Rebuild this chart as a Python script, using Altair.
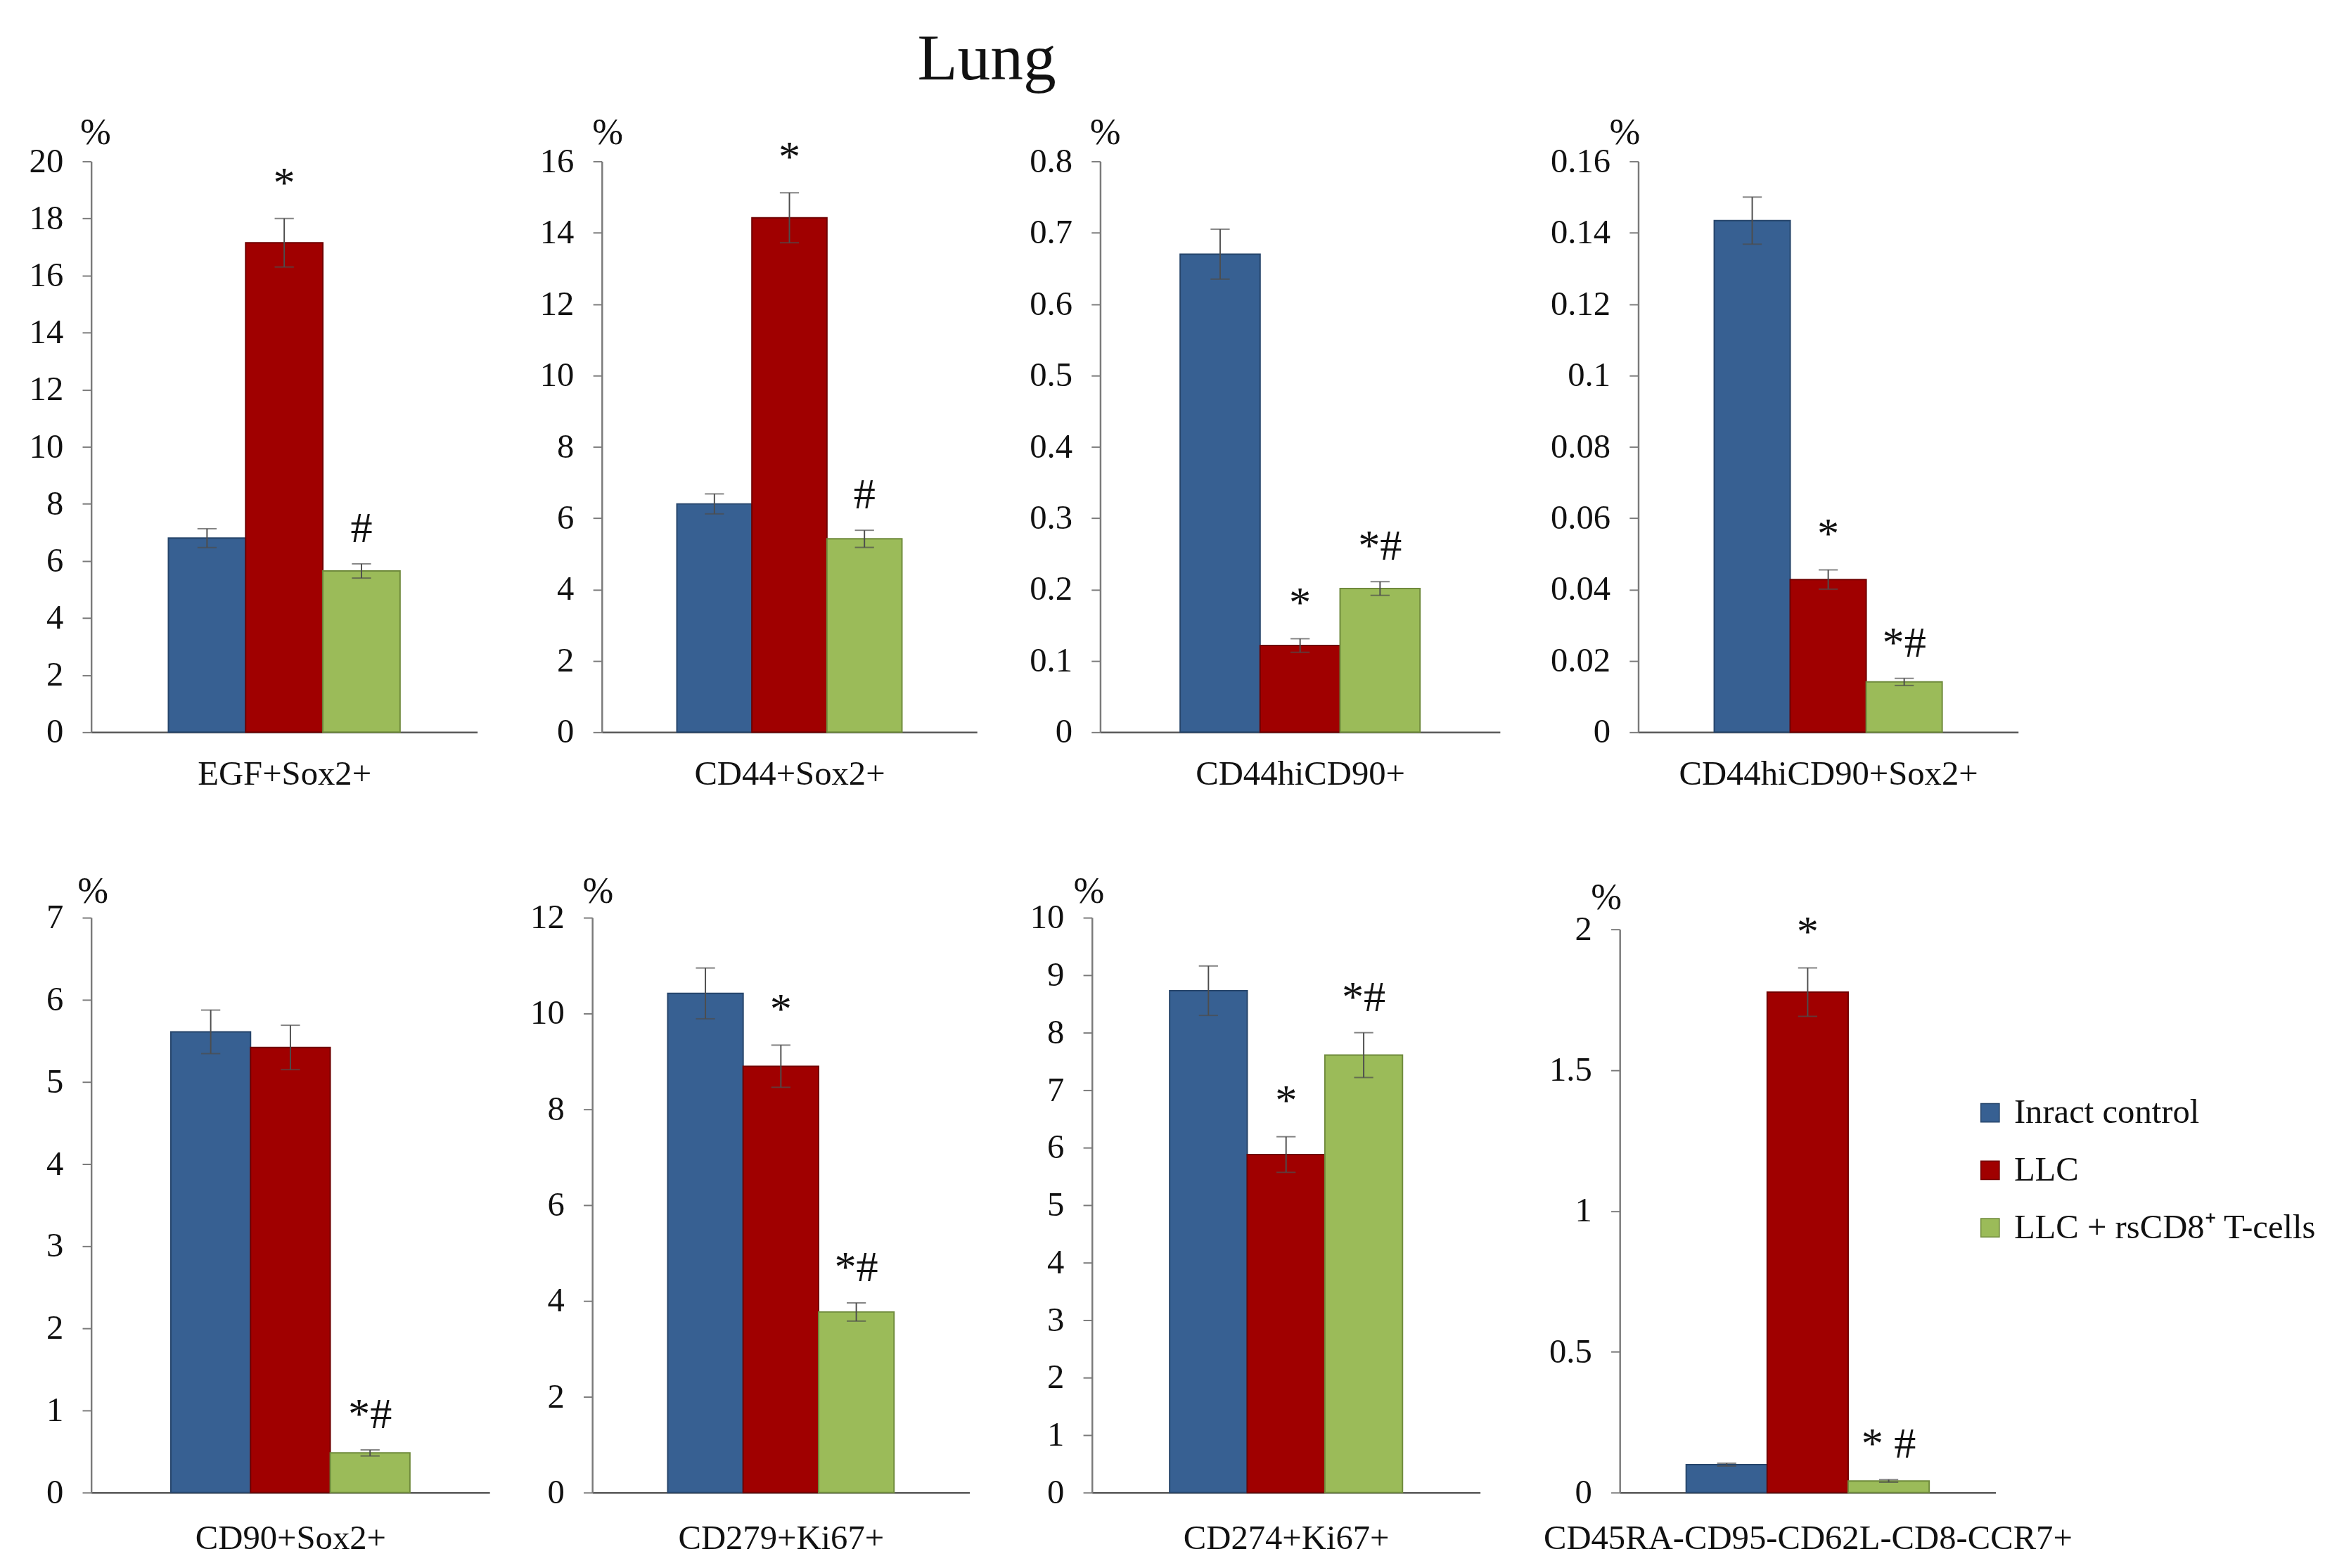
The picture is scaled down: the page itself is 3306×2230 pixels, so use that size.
import altair as alt
import pandas as pd

# ---------------- data ----------------
groups = ["Inract control", "LLC", "LLC + rsCD8\u207a T-cells"]
bar_colors = ["#376092", "#A00000", "#9BBB59"]
edge_colors = ["#26456b", "#700000", "#6f8a3c"]

markers = ["EGF+Sox2+", "CD44+Sox2+", "CD44hiCD90+", "CD44hiCD90+Sox2+",
           "CD90+Sox2+", "CD279+Ki67+", "CD274+Ki67+", "CD45RA-CD95-CD62L-CD8-CCR7+"]

egf_mean = [6.8, 17.15, 5.65]
egf_err = [0.33, 0.85, 0.25]
egf_sig = ["", "*", "#"]
egf_ticks = [0, 2, 4, 6, 8, 10, 12, 14, 16, 18, 20]

cd44_mean = [6.4, 14.42, 5.42]
cd44_err = [0.28, 0.7, 0.24]
cd44_sig = ["", "*", "#"]
cd44_ticks = [0, 2, 4, 6, 8, 10, 12, 14, 16]

cd44hi_mean = [0.670, 0.1215, 0.2014]
cd44hi_err = [0.035, 0.0095, 0.0096]
cd44hi_sig = ["", "*", "*#"]
cd44hi_ticks = [0, 0.1, 0.2, 0.3, 0.4, 0.5, 0.6, 0.7, 0.8]

cd44hisox_mean = [0.1434, 0.0428, 0.0141]
cd44hisox_err = [0.0066, 0.0027, 0.001]
cd44hisox_sig = ["", "*", "*#"]
cd44hisox_ticks = [0, 0.02, 0.04, 0.06, 0.08, 0.1, 0.12, 0.14, 0.16]

cd90_mean = [5.61, 5.42, 0.483]
cd90_err = [0.265, 0.27, 0.037]
cd90_sig = ["", "", "*#"]
cd90_ticks = [0, 1, 2, 3, 4, 5, 6, 7]

cd279_mean = [10.42, 8.90, 3.77]
cd279_err = [0.53, 0.44, 0.19]
cd279_sig = ["", "*", "*#"]
cd279_ticks = [0, 2, 4, 6, 8, 10, 12]

cd274_mean = [8.73, 5.88, 7.61]
cd274_err = [0.43, 0.31, 0.39]
cd274_sig = ["", "*", "*#"]
cd274_ticks = [0, 1, 2, 3, 4, 5, 6, 7, 8, 9, 10]

cd45_mean = [0.0993, 1.777, 0.0414]
cd45_err = [0.005, 0.086, 0.0046]
cd45_sig = ["", "*", "* #"]
cd45_ticks = [0, 0.5, 1, 1.5, 2]

panel_data = [
    (egf_mean, egf_err, egf_sig, egf_ticks),
    (cd44_mean, cd44_err, cd44_sig, cd44_ticks),
    (cd44hi_mean, cd44hi_err, cd44hi_sig, cd44hi_ticks),
    (cd44hisox_mean, cd44hisox_err, cd44hisox_sig, cd44hisox_ticks),
    (cd90_mean, cd90_err, cd90_sig, cd90_ticks),
    (cd279_mean, cd279_err, cd279_sig, cd279_ticks),
    (cd274_mean, cd274_err, cd274_sig, cd274_ticks),
    (cd45_mean, cd45_err, cd45_sig, cd45_ticks),
]

# ---------------- layout / style ----------------
FONT = "Liberation Serif"
widths = [564, 548, 584, 555, 582, 551, 567, 549]
heights = [834, 834, 834, 834, 840, 840, 840, 840]
range_top = [0, 0, 0, 0, 0, 0, 0, 17]
pad_outer = [1, 1, 1, 1, 1, 1, 1, 0.82]
pct_x = [6, 8, 7, -20, 2, 8, -5, -20]
pct_y = [-26, -26, -26, -26, -22, -22, -22, -13]
title_pad = [36, 36, 36, 36, 42, 42, 42, 42]

legend_def = alt.Legend(
    title=None, orient="none", legendX=2749, legendY=1365,
    symbolType="square", symbolSize=729, symbolStrokeColor="#333333",
    symbolStrokeWidth=1.5, labelFont=FONT, labelFontSize=50, labelColor="#111111",
    labelOffset=10, rowPadding=34, labelLimit=800,
)


def panel(i):
    mean, err, sig, ticks = panel_data[i]
    df = pd.DataFrame({
        "group": groups,
        "value": mean,
        "lo": [m - e for m, e in zip(mean, err)],
        "hi": [m + e for m, e in zip(mean, err)],
        "sig": sig,
    })
    ymax = ticks[-1]
    xenc = alt.X(
        "group:N", sort=groups,
        scale=alt.Scale(paddingInner=0, paddingOuter=pad_outer[i]),
        axis=alt.Axis(labels=False, ticks=False, domain=True, domainColor="#595959",
                      domainWidth=2.5, title=markers[i], titleFont=FONT,
                      titleFontSize=50, titleFontWeight="normal", titleColor="#111111",
                      titlePadding=title_pad[i]),
    )
    yscale = alt.Scale(domain=[0, ymax], nice=False, zero=True,
                       range=[heights[i], range_top[i]])
    yaxis = alt.Axis(values=ticks, format="~g", grid=False, domainColor="#7a7a7a",
                     domainWidth=2.5, tickColor="#7a7a7a", tickSize=13, tickWidth=2,
                     labelFont=FONT, labelFontSize=50, labelColor="#111111",
                     labelPadding=28,
                     title="%", titleAngle=0, titleFont=FONT, titleFontSize=54,
                     titleFontWeight="normal", titleColor="#111111",
                     titleX=pct_x[i], titleY=pct_y[i], titleAlign="center",
                     titleBaseline="alphabetic")
    base = alt.Chart(df)
    bars = base.mark_bar(strokeWidth=2).encode(
        x=xenc,
        y=alt.Y("value:Q", scale=yscale, axis=yaxis),
        color=alt.Color("group:N", sort=groups,
                        scale=alt.Scale(domain=groups, range=bar_colors),
                        legend=legend_def),
        stroke=alt.Stroke("group:N", scale=alt.Scale(domain=groups, range=edge_colors),
                          legend=None),
    )
    rule = base.mark_rule(color="#4d4d4d", strokeWidth=2).encode(
        x=alt.X("group:N", sort=groups), y="lo:Q", y2="hi:Q")
    cap_hi = base.mark_tick(color="#4d4d4d", thickness=2, size=28).encode(
        x=alt.X("group:N", sort=groups), y="hi:Q")
    cap_lo = base.mark_tick(color="#4d4d4d", thickness=2, size=28).encode(
        x=alt.X("group:N", sort=groups), y="lo:Q")
    text = base.mark_text(font=FONT, fontSize=64, color="#111111",
                          baseline="alphabetic", dy=-32).encode(
        x=alt.X("group:N", sort=groups), y="hi:Q", text="sig:N")
    return alt.layer(bars, rule, cap_hi, cap_lo, text).properties(
        width=widths[i], height=heights[i])


p = [panel(i) for i in range(8)]
row1 = alt.hconcat(
    p[0],
    alt.hconcat(p[1], alt.hconcat(p[2], p[3], spacing=73), spacing=76),
    spacing=91,
)
row2 = alt.hconcat(
    p[4],
    alt.hconcat(p[5], alt.hconcat(p[6], p[7], spacing=92), spacing=88),
    spacing=59,
)

chart = alt.vconcat(row1, row2, spacing=120).properties(
    title=alt.TitleParams("Lung", font=FONT, fontSize=96, fontWeight="normal",
                          color="#111111", anchor="start", dx=1298, offset=31),
    padding={"left": 34, "top": 0, "right": 4, "bottom": 4},
).configure_view(stroke=None)

chart.save("out.html", embed_options={"renderer": "svg", "actions": False})
